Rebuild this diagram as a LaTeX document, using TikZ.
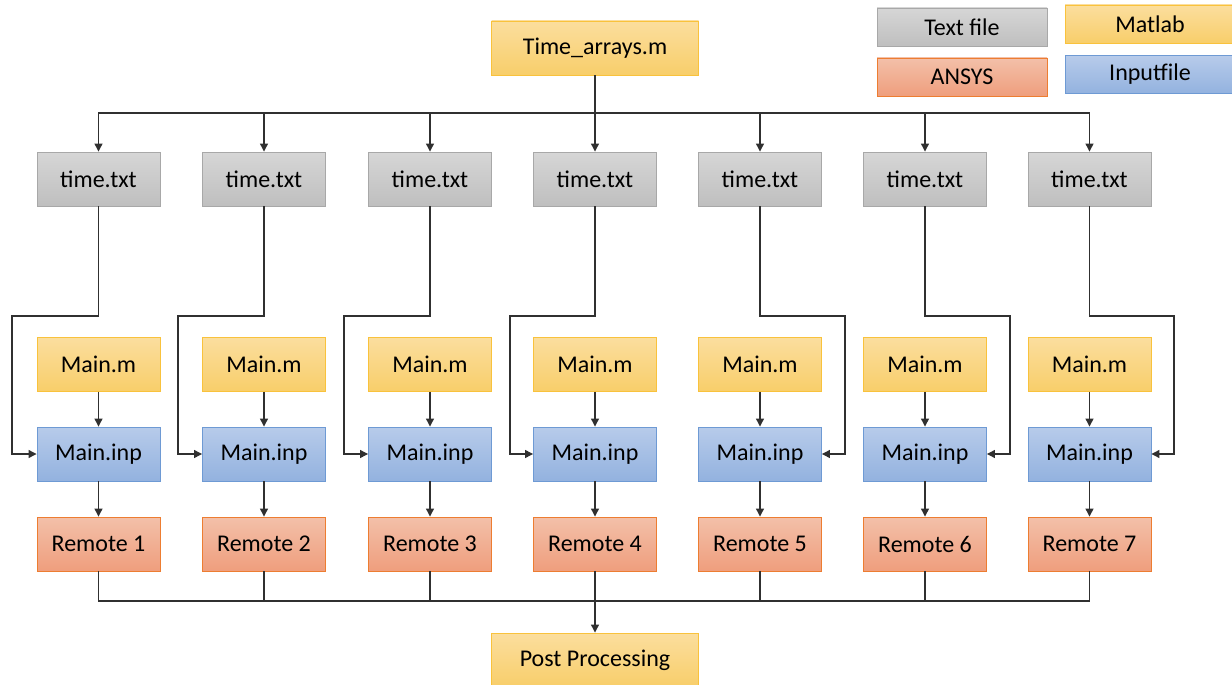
\documentclass[tikz,border=0pt]{standalone}
\usepackage{fontspec}
\setmainfont{Carlito}
\usetikzlibrary{arrows.meta}
\definecolor{grayT}{HTML}{D6D6D6}
\definecolor{grayB}{HTML}{BFBFBF}
\definecolor{grayD}{HTML}{A8A8A8}
\definecolor{yelT}{HTML}{FBDE9E}
\definecolor{yelB}{HTML}{F8CE6A}
\definecolor{yelD}{HTML}{F9C23C}
\definecolor{bluT}{HTML}{B7CBEA}
\definecolor{bluB}{HTML}{93B2DF}
\definecolor{bluD}{HTML}{6E9AD4}
\definecolor{oraT}{HTML}{F3C0A9}
\definecolor{oraB}{HTML}{EF9E7D}
\definecolor{oraD}{HTML}{ED7D31}
\definecolor{lineC}{HTML}{303030}
\tikzset{
  box/.style={rectangle, minimum width=123pt, minimum height=54pt, inner sep=0pt,
    font=\fontsize{24}{28}\selectfont, line width=0.9pt},
  txtfile/.style={box, top color=grayT, bottom color=grayB, draw=grayD},
  matlab/.style={box, top color=yelT, bottom color=yelB, draw=yelD},
  inpfile/.style={box, top color=bluT, bottom color=bluB, draw=bluD},
  ansys/.style={box, top color=oraT, bottom color=oraB, draw=oraD},
  legbox/.style={minimum width=170pt, minimum height=38pt},
  conn/.style={draw=lineC, line width=1.2pt},
  arr/.style={conn, -{Triangle[length=8pt,width=8pt]}}
}
\begin{document}
\begin{tikzpicture}[x=1pt,y=-1pt]
\useasboundingbox (0,0) rectangle (1232,685);
\clip (0,0) rectangle (1232,685);
% legend
\node[txtfile, legbox] (lt) at (962,27) {Text file};
\node[matlab, legbox] (lm) at (1150,24) {Matlab};
\node[ansys, legbox] (la) at (962,77) {ANSYS};
\node[inpfile, legbox] (li) at (1150,74.5) {Inputfile};
% top and bottom
\node[matlab, minimum width=207pt] (ta) at (595,48) {Time\_arrays.m};
\node[matlab, minimum width=207pt] (pp) at (595,660) {Post Processing};
\coordinate (topbus) at (595,113);
\coordinate (botbus) at (595,601);
\draw[conn] (ta.south) -- (topbus);
\foreach \i/\x in {1/98.5,2/264,3/430,4/595,5/760,6/925,7/1089.5}{
  \node[txtfile] (t\i) at (\x,179) {time.txt};
  \node[matlab] (m\i) at (\x,364.5) {Main.m};
  \node[inpfile] (p\i) at (\x,454) {Main.inp};
  \node[ansys] (r\i) at (\x,544) {Remote \i};
  \draw[arr] (topbus) -| (t\i.north);
  \draw[arr] (m\i) -- (p\i);
  \draw[arr] (p\i) -- (r\i);
  \draw[conn] (r\i.south) |- (botbus);
}
\foreach \i/\x in {1/12,2/178,3/344,4/510}{
  \coordinate (b\i) at (\x,316);
  \draw[arr] (t\i.south) |- (b\i) |- (p\i.west);
}
\foreach \i/\x in {5/845,6/1010,7/1174}{
  \coordinate (b\i) at (\x,316);
  \draw[arr] (t\i.south) |- (b\i) |- (p\i.east);
}
\draw[arr] (botbus) -- (pp.north);
\end{tikzpicture}
\end{document}
